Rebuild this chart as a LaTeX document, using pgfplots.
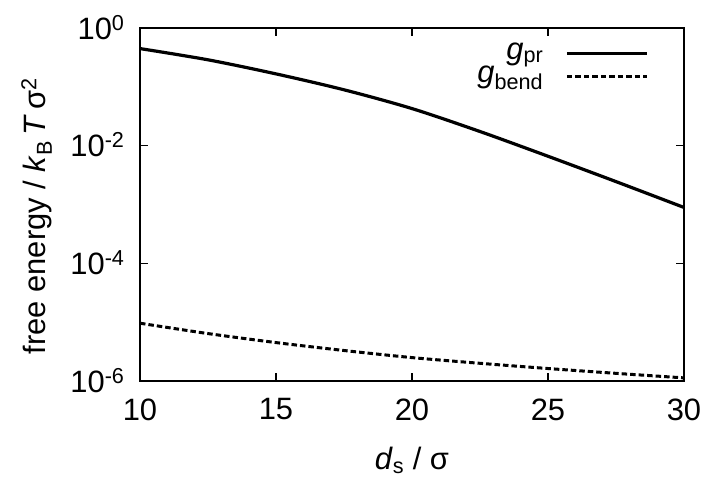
\documentclass[border=0pt]{standalone}
\usepackage{pgfplots}
\pgfplotsset{compat=1.18}
\usepackage{fontspec}
\setmainfont{Liberation Sans}

\begin{document}
\fontsize{31}{36}\selectfont
\begin{tikzpicture}
\begin{axis}[
  scale only axis,width=544bp,height=353bp,
  xmin=10,xmax=30,ymode=log,ymin=1e-6,ymax=1,
  xtick={10,15,20,25,30},xticklabels={10,15,20,25,30},
  ytick={1e-6,1e-4,1e-2,1},
  yticklabels={10\textsuperscript{-6},10\textsuperscript{-4},10\textsuperscript{-2},10\textsuperscript{0}},
  yminorticks=false,
  tick align=inside,major tick length=8bp,
  axis line style={line width=1.2bp},
  every tick/.style={line width=1.2bp,black},
  tick label style={font=\fontsize{31}{36}\selectfont},
  yticklabel style={anchor=base east,yshift=-11bp,xshift=-5bp},
  xticklabel style={yshift=-7bp},
  label style={font=\fontsize{31}{36}\selectfont},
  xlabel={\textit{d}\textsubscript{s} / σ},
  ylabel={free energy / \textit{k}\textsubscript{B}\,\textit{T}\,σ\textsuperscript{2}},
  xlabel style={at={(axis description cs:0.5,-0.224)},anchor=center},
  ylabel style={at={(axis description cs:-0.19,0.467)},anchor=center},
  legend style={draw=none,fill=none,at={(axis description cs:0.935,0.965)},anchor=north east,
    font=\fontsize{31}{36}\selectfont,row sep=-2bp,inner sep=0pt},
  legend plot pos=right,legend cell align=right,
  legend image code/.code={\path (0bp,0bp);\draw[#1] (20bp,0bp)--(100bp,0bp);},
  clip=false,
]
  \addplot[black,line width=3.2bp,smooth] coordinates {
    (10,0.447) (12.5,0.288) (15,0.166) (17.5,0.0891) (20,0.0427)
    (22.5,0.0174) (25,0.00661) (27.5,0.00245) (30,0.000891)};
  \addlegendentry{\textit{g}\textsubscript{pr}}
  \addplot[black,line width=3bp,dash pattern=on 5.5bp off 3bp,smooth] coordinates {
    (10,9.6e-6) (12.5,6.4e-6) (15,4.5e-6) (17.5,3.3e-6) (20,2.5e-6)
    (22.5,2.0e-6) (25,1.63e-6) (27.5,1.35e-6) (30,1.13e-6)};
  \addlegendentry{\textit{g}\textsubscript{bend}}
\end{axis}
\pgfresetboundingbox
\path[use as bounding box] ([xshift=-140bp,yshift=-105bp]current axis.south west)
  rectangle ([xshift=30bp,yshift=28bp]current axis.north east);
\end{tikzpicture}
\end{document}
